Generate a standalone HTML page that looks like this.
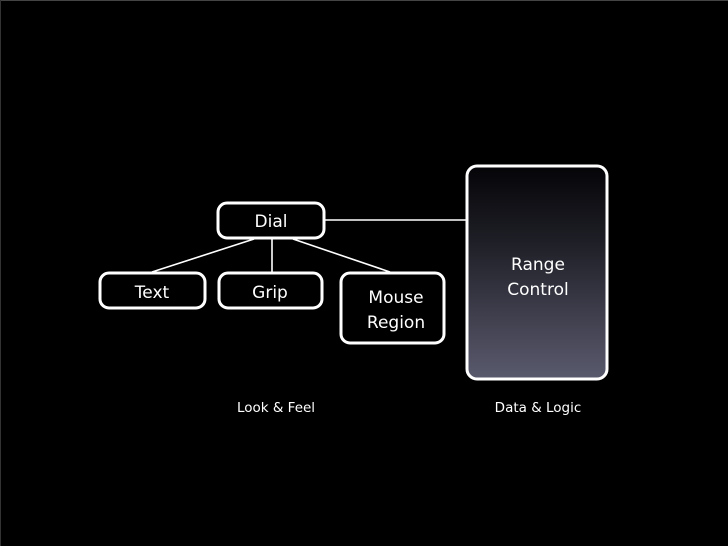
<!DOCTYPE html>
<html><head><meta charset="utf-8"><style>
html,body{margin:0;padding:0;background:#000;}
svg{display:block;}
text{font-family:"DejaVu Sans","Liberation Sans",sans-serif;fill:#fff;text-anchor:middle;}
</style></head><body>
<svg width="728" height="546" viewBox="0 0 728 546" xmlns="http://www.w3.org/2000/svg">
<defs>
<linearGradient id="g" x1="0" y1="0" x2="0" y2="1">
<stop offset="0" stop-color="#050508"/>
<stop offset="0.35" stop-color="#1e1e26"/>
<stop offset="1" stop-color="#5a5a6e"/>
</linearGradient>
</defs>
<rect width="728" height="546" fill="#000"/>
<rect x="0" y="0" width="728" height="1" fill="#444"/>
<rect x="0" y="0" width="1" height="546" fill="#333"/>
<g stroke="#fff" stroke-width="1.6" fill="none">
<line x1="324" y1="220" x2="467" y2="220"/>
<line x1="254" y1="239" x2="152" y2="272"/>
<line x1="272" y1="239" x2="272" y2="272"/>
<line x1="293" y1="239" x2="390" y2="272"/>
</g>
<g stroke="#fff" stroke-width="3" fill="#000">
<rect x="218" y="203" width="106" height="35" rx="9"/>
<rect x="100" y="273" width="105" height="35" rx="9"/>
<rect x="219" y="273" width="103" height="35" rx="9"/>
<rect x="341" y="273" width="103" height="70" rx="9"/>
<rect x="467" y="166" width="140" height="213" rx="10" fill="url(#g)"/>
</g>
<text x="271" y="227" font-size="17">Dial</text>
<text x="152" y="298" font-size="17">Text</text>
<text x="270" y="298" font-size="17">Grip</text>
<text x="396" y="303" font-size="17">Mouse</text>
<text x="396" y="328" font-size="17">Region</text>
<text x="538" y="270" font-size="17">Range</text>
<text x="538" y="295" font-size="17">Control</text>
<text x="276" y="412" font-size="13.5">Look &amp; Feel</text>
<text x="538" y="412" font-size="13.5">Data &amp; Logic</text>
</svg>
</body></html>
